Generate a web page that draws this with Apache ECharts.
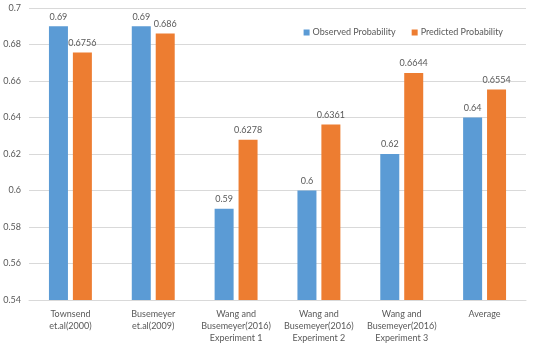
<!DOCTYPE html>
<html>
<head>
<meta charset="utf-8">
<script src="https://cdn.jsdelivr.net/npm/echarts@6/dist/echarts.min.js"></script>
<style>
  html, body { margin: 0; padding: 0; background: #fff; }
  #chart { width: 534px; height: 359px; }
</style>
</head>
<body>
<div id="chart"></div>
<script>
  var categories = [
    'Townsend\net.al(2000)',
    'Busemeyer\net.al(2009)',
    'Wang and\nBusemeyer(2016)\nExperiment 1',
    'Wang and\nBusemeyer(2016)\nExperiment 2',
    'Wang and\nBusemeyer(2016)\nExperiment 3',
    'Average'
  ];
  var observed = [0.69, 0.69, 0.59, 0.6, 0.62, 0.64];
  var predicted = [0.6756, 0.686, 0.6278, 0.6361, 0.6644, 0.6554];
  var yTicks = [0.54, 0.56, 0.58, 0.6, 0.62, 0.64, 0.66, 0.68, 0.7];

  var font = 'Lato, "Open Sans", sans-serif';
  var myChart = echarts.init(document.getElementById('chart'));
  var labelStyle = {
    show: true,
    position: 'top',
    distance: 5,
    color: '#595959',
    fontSize: 9,
    fontFamily: font,
    formatter: function (p) { return String(p.value); }
  };
  var option = {
    animation: false,
    color: ['#5B9BD5', '#ED7D31'],
    grid: { left: 29, right: 8, top: 8, bottom: 59 },
    legend: {
      top: 23,
      right: 26,
      itemWidth: 6,
      itemHeight: 6,
      itemGap: 16,
      icon: 'rect',
      textStyle: { color: '#595959', fontSize: 9, fontFamily: font, padding: [0, 0, 0, -2] },
      data: ['Observed Probability', 'Predicted Probability']
    },
    xAxis: {
      type: 'category',
      data: categories,
      axisLine: { lineStyle: { color: '#D9D9D9' } },
      axisTick: { show: false },
      axisLabel: {
        color: '#595959',
        fontSize: 9,
        fontFamily: font,
        lineHeight: 12,
        margin: 8,
        interval: 0
      }
    },
    yAxis: {
      type: 'value',
      min: yTicks[0],
      max: yTicks[yTicks.length - 1],
      interval: 0.02,
      axisLine: { show: false },
      axisTick: { show: false },
      splitLine: { lineStyle: { color: '#D9D9D9' } },
      axisLabel: {
        color: '#595959',
        fontSize: 9,
        fontFamily: font,
        margin: 8,
        formatter: function (v) { return String(parseFloat(v.toFixed(2))); }
      }
    },
    series: [
      {
        name: 'Observed Probability',
        type: 'bar',
        data: observed,
        barWidth: 19,
        barGap: '26%',
        label: labelStyle
      },
      {
        name: 'Predicted Probability',
        type: 'bar',
        data: predicted,
        barWidth: 19,
        label: labelStyle
      }
    ]
  };
  myChart.setOption(option);
</script>
</body>
</html>
